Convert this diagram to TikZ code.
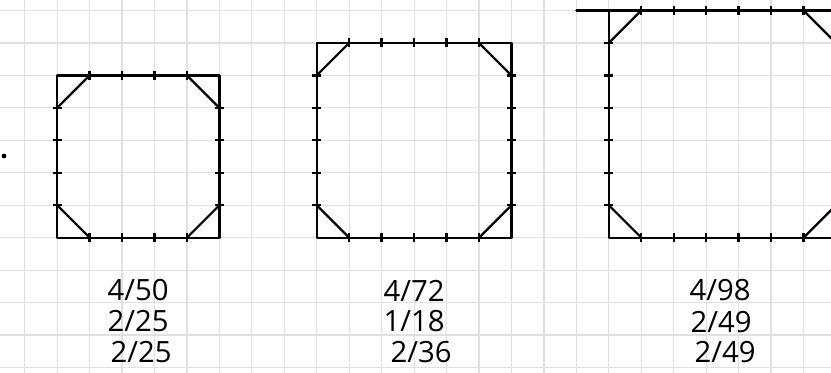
\documentclass[tikz,border=0pt]{standalone}
\usepackage{fontspec}
\setmainfont{Open Sans}
\newcommand\ticksq[4]{%
  \draw[edge] (#1,#2) rectangle (#3,#4);
  \draw[edge] (#1+1,#2) -- (#1,#2+1);
  \draw[edge] (#3-1,#2) -- (#3,#2+1);
  \draw[edge] (#1,#4-1) -- (#1+1,#4);
  \draw[edge] (#3-1,#4) -- (#3,#4-1);
  \pgfmathtruncatemacro\xa{#1+1}\pgfmathtruncatemacro\xb{#3-1}%
  \pgfmathtruncatemacro\ya{#2+1}\pgfmathtruncatemacro\yb{#4-1}%
  \foreach \i in {\xa,...,\xb}{%
    \draw[tickmk] (\i,#2-0.14) -- (\i,#2+0.14);
    \draw[tickmk] (\i,#4-0.14) -- (\i,#4+0.14);}
  \foreach \j in {\ya,...,\yb}{%
    \draw[tickmk] (#1-0.14,\j) -- (#1+0.14,\j);
    \draw[tickmk] (#3-0.14,\j) -- (#3+0.14,\j);}
}
\begin{document}
\begin{tikzpicture}[x=0.03cm,y=-0.03cm,
  gridline/.style={draw=black!12,line width=1pt},
  edge/.style={draw=black,line width=1.9pt,line cap=round,line join=round},
  tickmk/.style={draw=black,line width=2pt},
  hand/.style={font=\fontsize{25}{25}\selectfont,text=black,inner sep=0pt}]
\useasboundingbox (0,0) rectangle (831,373);
\fill[white] (0,0) rectangle (831,373);
\begin{scope}
\clip (0,0) rectangle (831,373);
\begin{scope}[shift={(24.7,10.5)},x=0.9735cm,y=-0.9735cm]
  \foreach \k in {-1,...,25} \draw[gridline] (\k,-1) -- (\k,12);
  \foreach \k in {-1,...,12} \draw[gridline] (-1,\k) -- (26,\k);
  \ticksq{1}{2}{6}{7}
  \ticksq{9}{1}{15}{7}
  \ticksq{18}{0}{25}{7}
  \draw[edge] (17,0) -- (18,0);
\end{scope}
\end{scope}
\fill[black] (4,156) circle (2.4);
\node[hand] (t1a) at (138,290) {4/50};
\node[hand] (t1b) at (138,321) {2/25};
\node[hand] (t1c) at (141,352) {2/25};
\node[hand] (t2a) at (414,291) {4/72};
\node[hand] (t2b) at (414,321) {1/18};
\node[hand] (t2c) at (421,352) {2/36};
\node[hand] (t3a) at (720,290) {4/98};
\node[hand] (t3b) at (721,322) {2/49};
\node[hand] (t3c) at (725,352) {2/49};
\end{tikzpicture}
\end{document}
